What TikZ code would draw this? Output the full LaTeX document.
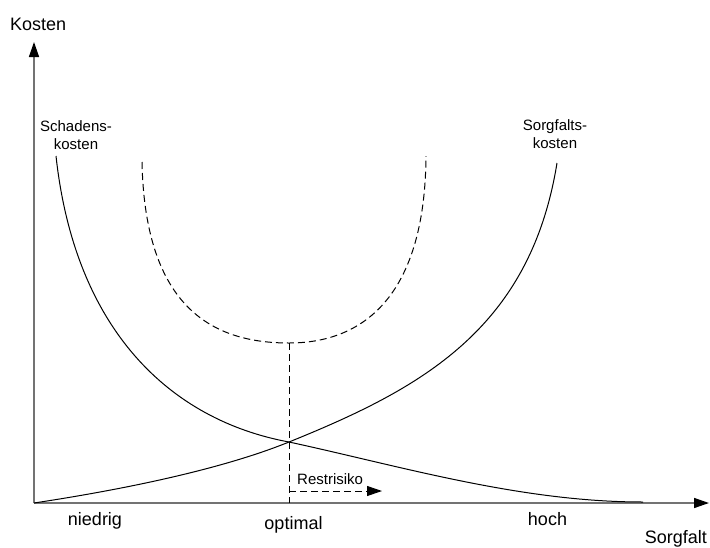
\documentclass[tikz,border=0pt]{standalone}
\usepackage{fontspec}
\setmainfont{Liberation Sans}
\usetikzlibrary{arrows.meta}
\begin{document}
\begin{tikzpicture}[x=1pt,y=-1pt,
  axis/.style={draw=black!55, line width=1.5pt, -{Triangle[length=15pt,width=10pt,color=black]}},
  curve/.style={draw=black, line width=1pt},
  dcurve/.style={curve, dash pattern=on 7pt off 4pt},
  darrow/.style={dcurve, -{Triangle[length=15pt,width=10pt]}},
  lbl/.style={inner sep=0pt, font=\fontsize{15}{18}\selectfont, align=center},
  big/.style={inner sep=0pt, font=\fontsize{18}{21}\selectfont}]
\useasboundingbox (0,0) rectangle (710,547);
% axes
\coordinate (O) at (34,503);
\coordinate (Ytip) at (34,42);
\coordinate (Xtip) at (709,503);
\draw[axis] (O) -- (Ytip);
\draw[axis] (O) -- (Xtip);
% crossing point
\coordinate (X) at (289,442);
% Schadenskosten
\draw[curve] (56,156) .. controls (75,330) and (170,420) .. (X)
  .. controls (400,466) and (520,502) .. (643,502);
% Sorgfaltskosten
\draw[curve] (O) .. controls (120,490) and (220,470) .. (X)
  .. controls (420,389) and (530,330) .. (557,163);
% total costs (dashed)
\coordinate (opt) at (289,343);
\draw[dcurve] (142,162) .. controls (145,310) and (215,343) .. (opt)
  .. controls (360,343) and (425,300) .. (426,156);
% optimum
\coordinate (optx) at (289,503);
\draw[dcurve] (opt) -- (optx);
\coordinate (rs) at (289,491);
\coordinate (re) at (382,491);
\draw[darrow] (rs) -- (re);
% labels
\node[big, anchor=base west] (kosten) at (10,30) {Kosten};
\node[lbl, text depth=0pt, anchor=south] (schaden) at (76,150) {Schadens-\\kosten};
\node[lbl, text depth=0pt, anchor=south] (sorgf) at (555,149) {Sorgfalts-\\kosten};
\node[lbl, anchor=base west] (rest) at (297,484) {Restrisiko};
\node[big, anchor=base] (niedrig) at (95,525) {niedrig};
\node[big, anchor=base] (optimal) at (293.5,529) {optimal};
\node[big, anchor=base] (hoch) at (547.5,525) {hoch};
\node[big, anchor=base east] (sorgfalt) at (707,543) {Sorgfalt};
\end{tikzpicture}
\end{document}
